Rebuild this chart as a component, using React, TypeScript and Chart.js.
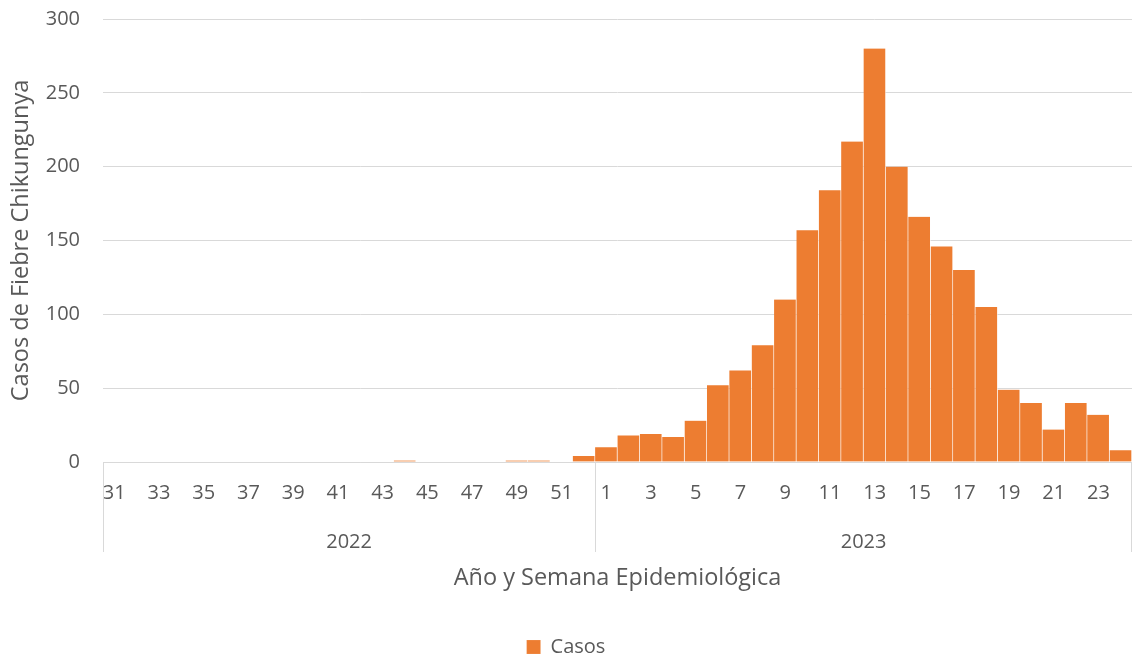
import React, { useEffect, useRef } from "react";
import { Chart, registerables } from "chart.js";

Chart.register(...registerables);

const years = ["2022", "2023"];
const weeks2022 = ["31","32","33","34","35","36","37","38","39","40","41","42","43","44","45","46","47","48","49","50","51","52"];
const weeks2023 = ["1","2","3","4","5","6","7","8","9","10","11","12","13","14","15","16","17","18","19","20","21","22","23","24"];
const cases2022 = [0,0,0,0,0,0,0,0,0,0,0,0,0,1,0,0,0,0,1,1,0,4];
const cases2023 = [10,18,19,17,28,52,62,79,110,157,184,217,280,200,166,146,130,105,49,40,22,40,32,8];
const yTicks = [0, 50, 100, 150, 200, 250, 300];

const FONT = "'Open Sans', 'Noto Sans', sans-serif";
const TEXT = "#595959";
const GRID = "#d9d9d9";

const groups = [
  { label: years[0], count: weeks2022.length },
  { label: years[1], count: weeks2023.length },
];

const yearPlugin = {
  id: "yearRow",
  afterDraw(chart: any) {
    const { ctx, chartArea } = chart;
    const xs = chart.scales.x;
    const n = xs.ticks.length;
    const step = xs.width / n;
    const top = chartArea.bottom;
    const lineBottom = top + 90;
    ctx.save();
    ctx.strokeStyle = GRID;
    ctx.lineWidth = 1;
    let idx = 0;
    const edges: number[] = [];
    groups.forEach((g) => {
      const left = xs.getPixelForValue(idx) - step / 2;
      const right = xs.getPixelForValue(idx + g.count - 1) + step / 2;
      edges.push(left, right);
      ctx.fillStyle = TEXT;
      ctx.font = `20px ${FONT}`;
      ctx.textAlign = "center";
      ctx.textBaseline = "middle";
      ctx.fillText(g.label, (left + right) / 2, top + 80);
      idx += g.count;
    });
    const uniq = Array.from(new Set(edges.map((e) => Math.round(e))));
    uniq.forEach((e) => {
      const x = Math.min(e, chart.width - 1) + 0.5;
      ctx.beginPath();
      ctx.moveTo(x, top);
      ctx.lineTo(x, lineBottom);
      ctx.stroke();
    });
    ctx.restore();
  },
};

export default function App() {
  const ref = useRef<HTMLCanvasElement | null>(null);
  useEffect(() => {
    if (!ref.current) return;
    const labels = [...weeks2022, ...weeks2023];
    const data = [...cases2022, ...cases2023];
    const chart = new Chart(ref.current, {
      type: "bar",
      data: {
        labels,
        datasets: [
          {
            label: "Casos",
            data,
            backgroundColor: "#ED7D31",
            borderColor: "rgba(255,255,255,0.55)",
            borderWidth: { left: 0, right: 1, top: 0, bottom: 0 },
            borderSkipped: false,
            barPercentage: 1,
            categoryPercentage: 1,
          },
        ],
      },
      options: {
        animation: false,
        responsive: true,
        maintainAspectRatio: false,
        layout: { padding: { top: 19, right: 0, left: 0, bottom: -8 } },
        plugins: {
          legend: {
            position: "bottom",
            labels: {
              color: TEXT,
              font: { family: FONT, size: 20 },
              boxWidth: 14,
              boxHeight: 14,
              padding: 3,
            },
          },
          tooltip: { enabled: false },
        },
        scales: {
          x: {
            grid: { display: false, drawTicks: false },
            border: { display: true, color: GRID },
            ticks: {
              autoSkip: false,
              maxRotation: 0,
              minRotation: 0,
              color: TEXT,
              font: { family: FONT, size: 20 },
              padding: 19,
              callback: (_v: any, i: number) => (i % 2 === 0 ? labels[i] : ""),
            },
            title: {
              display: true,
              text: "Año y Semana Epidemiológica",
              color: TEXT,
              font: { family: FONT, size: 23.5 },
              padding: { top: 0, bottom: 42 },
            },
            afterFit: (scale: any) => {
              scale.height = 172;
              scale.paddingLeft = 0;
              scale.paddingRight = 0;
            },
          },
          y: {
            min: 0,
            max: 300,
            grid: { color: GRID, drawTicks: false },
            border: { display: false },
            afterBuildTicks: (scale: any) => {
              scale.ticks = yTicks.map((v) => ({ value: v }));
            },
            ticks: {
              color: TEXT,
              font: { family: FONT, size: 20 },
              padding: 23,
            },
            title: {
              display: true,
              text: "Casos de Fiebre Chikungunya",
              color: TEXT,
              font: { family: FONT, size: 23.5 },
              padding: { top: 7, bottom: 0 },
            },
            afterFit: (scale: any) => {
              scale.width = 103;
              scale.paddingTop = 0;
              scale.paddingBottom = 0;
            },
          },
        },
      },
      plugins: [yearPlugin],
    });
    return () => chart.destroy();
  }, []);
  return (
    <div style={{ position: "fixed", left: 0, top: 0, width: 1132, height: 659, background: "#fff" }}>
      <canvas ref={ref} />
    </div>
  );
}
